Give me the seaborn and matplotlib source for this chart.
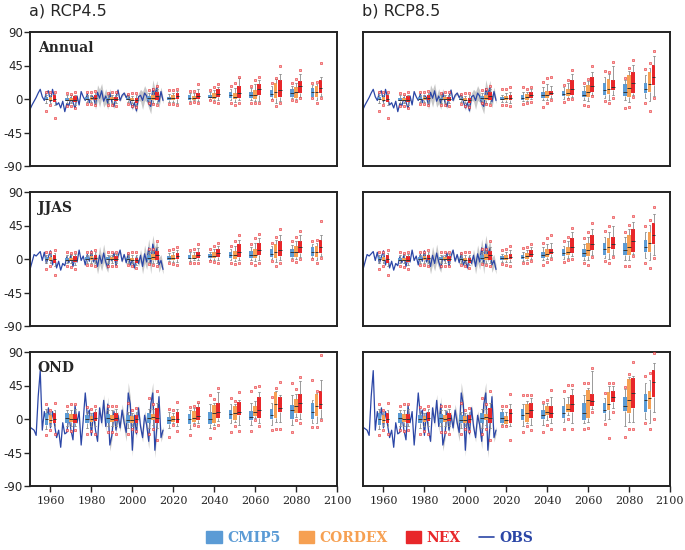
import numpy as np
import pandas as pd
import matplotlib
matplotlib.use("Agg")
import matplotlib.pyplot as plt
import seaborn as sns
from matplotlib.patches import Patch
from matplotlib.lines import Line2D

# observed anomalies 1950-2015
years = np.arange(1950, 2016)
obs_annual = [-14, -8, -3, 2, 8, 13, 3, -2, 9, 11, -4, 13, 2, -8, -5, -12, -3, -17, -6, -9,
              2, -4, -13, 4, -8, 10, 3, -2, 7, -5, 5, 2, -8, 9, 1, 11, -3, 4, -6, 8,
              -4, -10, 3, 12, -2, 5, 8, 2, 6, -3, -12, -5, -16, 3, 5, -2, 8, 4, -6, -10,
              14, 6, 15, -4, 10, -2]
obs_jjas = [-14, -4, 6, 4, 7, 10, -2, 9, -6, 3, 11, -8, 4, -12, -3, -15, -6, -9, 3, -5,
            6, -10, 2, -4, 12, -2, 4, -8, 6, -3, 11, -4, 2, -10, 5, -6, 8, -4, -12, 3,
            -2, 8, -9, 4, 12, -3, 6, -5, 8, -8, -2, -12, 3, -6, 5, -10, 7, -4, 15, -6,
            20, 6, 14, -8, -2, -14]
obs_ond = [-11, -13, -15, -22, 30, 65, -15, 10, -5, 15, -12, 10, -8, -25, -15, -38, -5, -20, -18, 5,
           -15, -28, 18, -5, 10, -35, -2, 35, 5, 12, -22, 8, -15, -30, 15, -5, 25, -10, 20, -35,
           -22, 10, -15, 5, -12, 12, -5, -18, 35, 20, -42, 5, -20, 15, -10, -25, 5, -8, -30, 20,
           35, -42, -10, 30, -25, -15]

# half width of the grey model band, 1981-2015
band_years = np.arange(1981, 2016)
band_annual = [0, 6, 10, 12, 10, 8, 10, 8, 6, 4, 3, 3, 2, 2, 2, 2, 3, 3, 3, 3,
               3, 3, 5, 8, 12, 10, 8, 6, 10, 12, 8, 10, 8, 6, 4]
band_jjas = [4, 8, 10, 12, 10, 12, 8, 6, 4, 3, 2, 2, 2, 2, 2, 2, 3, 3, 3, 3,
             3, 3, 4, 8, 10, 12, 10, 12, 14, 12, 10, 12, 10, 8, 6]
band_ond = [0, 0, 2, 4, 6, 8, 8, 10, 8, 6, 6, 5, 6, 5, 8, 10, 12, 14, 10, 8,
            6, 6, 5, 5, 6, 6, 8, 10, 12, 14, 10, 8, 6, 6, 5]

# box stats: (low point, whisker low, q1, median, q3, whisker high, high point)
hist_pos = [1960, 1970, 1980, 1990, 2000, 2010]
fut_pos = [2020, 2030, 2040, 2050, 2060, 2070, 2080, 2090]

hist_ann_cmip5 = [(-16, -5, -2, 0, 3, 6, 9), (-9, -5, -3, -1, 2, 5, 8), (-7, -4, -2, 0, 3, 5, 9),
                  (-8, -5, -2, 0, 2, 5, 8), (-7, -4, -2, 0, 2, 4, 7), (-6, -4, -1, 1, 4, 8, 12)]
hist_ann_cordex = [(-8, -6, -3, -1, 3, 6, 9), (-10, -6, -3, -1, 2, 5, 7), (-7, -4, -2, 1, 3, 6, 9),
                   (-8, -5, -2, 0, 3, 6, 9), (-9, -6, -3, -1, 2, 4, 8), (-7, -5, -1, 2, 6, 10, 13)]
hist_ann_nex = [(-25, -8, -4, 0, 5, 7, 10), (-12, -8, -4, -1, 4, 6, 9), (-8, -5, -2, 2, 6, 8, 11),
                (-9, -6, -3, 0, 3, 6, 9), (-11, -8, -5, -2, 2, 5, 8), (-8, -6, -2, 4, 10, 14, 17)]

hist_jjas_cmip5 = [(-14, -6, -2, 0, 3, 6, 10), (-10, -6, -3, -1, 2, 5, 9), (-8, -5, -2, 0, 3, 6, 10),
                   (-9, -5, -2, 0, 3, 5, 9), (-8, -5, -2, 0, 2, 5, 8), (-7, -4, -1, 2, 5, 9, 13)]
hist_jjas_cordex = [(-9, -6, -3, -1, 3, 6, 10), (-11, -6, -3, -1, 2, 5, 8), (-8, -5, -2, 1, 4, 7, 10),
                    (-9, -5, -2, 0, 3, 6, 10), (-10, -6, -3, -1, 2, 5, 9), (-8, -5, -1, 3, 7, 11, 14)]
hist_jjas_nex = [(-22, -9, -5, 0, 5, 8, 12), (-13, -8, -4, -1, 4, 7, 10), (-9, -6, -2, 2, 6, 9, 12),
                 (-10, -6, -3, 0, 4, 7, 10), (-12, -8, -5, -2, 2, 5, 9), (-9, -6, -2, 5, 11, 16, 24)]

hist_ond_cmip5 = [(-22, -14, -8, 0, 8, 14, 20), (-15, -10, -5, 2, 8, 12, 18), (-20, -12, -5, 0, 5, 10, 16),
                  (-18, -10, -5, 2, 7, 12, 18), (-20, -12, -6, -1, 5, 10, 22), (-20, -12, -5, 1, 8, 14, 28)]
hist_ond_cordex = [(-15, -10, -6, -2, 5, 10, 12), (-16, -10, -4, 0, 7, 12, 20), (-16, -10, -4, 0, 4, 8, 14),
                   (-18, -10, -4, 0, 6, 12, 18), (-14, -10, -6, -1, 4, 8, 12), (-14, -8, -2, 3, 7, 14, 20)]
hist_ond_nex = [(-20, -10, -5, 0, 8, 12, 22), (-15, -10, -6, 0, 7, 14, 20), (-20, -10, -3, 2, 9, 14, 18),
                (-20, -10, -3, 2, 8, 13, 18), (-16, -10, -5, 0, 5, 10, 15), (-28, -12, -6, 2, 15, 22, 38)]

rcp45_ann_cmip5 = [(-7, -4, -1, 1, 3, 7, 12), (-6, -3, -1, 2, 5, 8, 11), (-2, -1, 1, 3, 6, 9, 12),
                   (-6, -2, 2, 5, 9, 14, 18), (-6, -2, 2, 5, 9, 15, 18), (-2, 0, 3, 7, 12, 17, 21),
                   (-1, 1, 3, 8, 13, 18, 22), (1, 2, 3, 9, 15, 19, 22)]
rcp45_ann_cordex = [(-7, -4, -2, 1, 5, 8, 12), (-4, -2, -1, 1, 4, 8, 11), (-4, -2, 0, 3, 8, 12, 16),
                    (-8, -4, 0, 3, 8, 15, 22), (-6, -3, 0, 5, 12, 20, 25), (-9, -5, 1, 10, 22, 27, 28),
                    (-3, 0, 2, 9, 16, 22, 27), (-6, -2, 3, 9, 17, 20, 23)]
rcp45_ann_nex = [(-8, -5, 0, 4, 8, 11, 14), (-6, -3, 0, 4, 8, 14, 20), (-5, -2, 3, 7, 13, 16, 20),
                 (-5, -2, 2, 8, 18, 28, 29), (-6, -3, 6, 13, 20, 26, 29), (-6, -3, 3, 12, 25, 33, 44),
                 (1, 3, 8, 17, 24, 33, 39), (2, 4, 8, 15, 25, 30, 48)]

rcp85_ann_cmip5 = [(-8, -4, -2, 0, 3, 6, 13), (-7, -3, -1, 2, 5, 9, 16), (-11, -2, 2, 5, 9, 16, 23),
                   (-4, 0, 4, 7, 11, 16, 19), (-8, -2, 3, 6, 11, 18, 22), (-3, 1, 6, 12, 22, 30, 38),
                   (-12, -2, 4, 10, 20, 26, 28), (-6, 2, 8, 14, 22, 32, 40)]
rcp85_ann_cordex = [(-8, -4, -1, 2, 4, 8, 13), (-6, -3, -2, 3, 7, 10, 13), (-5, -1, 2, 6, 11, 20, 28),
                    (0, 2, 4, 8, 14, 22, 26), (-9, -3, 3, 10, 19, 24, 27), (-6, -2, 7, 14, 27, 33, 36),
                    (-11, -4, 3, 15, 32, 38, 41), (-16, -3, 10, 20, 36, 42, 48)]
rcp85_ann_nex = [(-9, -5, -1, 2, 5, 10, 16), (-4, 0, 2, 6, 10, 13, 16), (-1, 2, 6, 8, 11, 18, 30),
                 (0, 3, 6, 14, 25, 34, 39), (4, 6, 10, 18, 29, 36, 45), (2, 5, 12, 16, 25, 44, 50),
                 (3, 5, 8, 22, 36, 46, 52), (1, 4, 19, 30, 46, 58, 65)]

rcp45_jjas_cmip5 = [(-6, -3, -1, 2, 4, 8, 12), (-5, -3, 0, 2, 5, 9, 12), (-3, -1, 1, 4, 7, 10, 14),
                    (-5, -2, 2, 5, 10, 14, 18), (-5, -1, 2, 6, 11, 16, 20), (-3, 0, 3, 7, 13, 18, 22),
                    (-2, 1, 3, 9, 14, 19, 24), (0, 2, 4, 10, 16, 20, 24)]
rcp45_jjas_cordex = [(-7, -4, -1, 2, 6, 9, 13), (-5, -2, 0, 2, 6, 10, 14), (-4, -1, 1, 4, 9, 14, 18),
                     (-7, -3, 0, 5, 11, 18, 24), (-8, -3, 1, 6, 13, 22, 28), (-10, -4, 2, 9, 20, 26, 30),
                     (-4, 0, 3, 10, 18, 24, 30), (-6, -1, 3, 10, 18, 22, 26)]
rcp45_jjas_nex = [(-8, -4, 0, 4, 8, 12, 16), (-6, -2, 1, 5, 9, 15, 20), (-5, -1, 3, 8, 14, 18, 22),
                  (-6, -2, 3, 9, 20, 26, 32), (-5, -2, 6, 12, 22, 28, 34), (-5, -2, 4, 12, 24, 32, 40),
                  (0, 3, 8, 16, 24, 32, 38), (1, 4, 8, 16, 26, 32, 51)]

rcp85_jjas_cmip5 = [(-7, -4, -1, 1, 4, 7, 12), (-6, -3, 0, 3, 6, 10, 15), (-8, -2, 2, 5, 10, 16, 22),
                    (-4, 0, 4, 8, 13, 18, 24), (-6, -1, 3, 8, 14, 20, 28), (-3, 2, 6, 13, 22, 30, 38),
                    (-10, -1, 5, 12, 22, 30, 36), (-5, 2, 9, 16, 26, 36, 44)]
rcp85_jjas_cordex = [(-8, -4, -1, 2, 5, 9, 14), (-6, -2, 0, 4, 8, 12, 16), (-4, 0, 3, 7, 13, 20, 28),
                     (-1, 2, 5, 10, 16, 24, 30), (-8, -2, 4, 12, 22, 30, 36), (-6, 0, 8, 16, 28, 36, 44),
                     (-10, -2, 5, 16, 32, 40, 46), (-12, -2, 10, 22, 36, 46, 52)]
rcp85_jjas_nex = [(-9, -4, 0, 3, 7, 12, 18), (-3, 0, 3, 7, 12, 16, 20), (0, 3, 7, 10, 14, 22, 32),
                  (0, 4, 8, 16, 28, 36, 42), (3, 6, 12, 20, 32, 40, 48), (3, 6, 14, 20, 30, 44, 56),
                  (4, 7, 10, 24, 40, 50, 58), (2, 6, 20, 32, 48, 60, 70)]

rcp45_ond_cmip5 = [(-24, -12, -7, -2, 3, 10, 14), (-21, -14, -7, 0, 7, 12, 16), (-25, -12, -7, 0, 10, 20, 32),
                   (-18, -6, 0, 7, 12, 20, 28), (-16, -8, -2, 3, 11, 22, 38), (-15, -8, 0, 6, 14, 22, 29),
                   (-18, -8, 0, 12, 19, 32, 49), (-11, -6, 0, 10, 21, 26, 52)]
rcp45_ond_cordex = [(-8, -5, -4, 0, 4, 8, 12), (-8, -5, -4, 2, 11, 15, 17), (-12, -8, -6, 8, 19, 22, 27),
                    (-10, -4, -1, 8, 17, 20, 24), (-1, 2, 4, 10, 18, 24, 43), (-14, -4, 1, 20, 36, 38, 42),
                    (-1, 3, 8, 18, 27, 34, 40), (-11, -5, 4, 18, 33, 35, 38)]
rcp45_ond_nex = [(-16, -10, -5, 0, 9, 14, 23), (-10, -6, -2, 4, 16, 22, 23), (-8, -3, 1, 10, 22, 36, 42),
                 (-16, -8, 5, 10, 23, 26, 36), (-10, -6, 2, 12, 29, 36, 45), (-14, -4, 10, 15, 29, 32, 50),
                 (-5, 0, 8, 22, 33, 51, 56), (-2, 2, 13, 20, 38, 52, 86)]

rcp85_ond_cmip5 = [(-9, -7, -6, 1, 10, 14, 17), (-17, -10, -1, 6, 14, 20, 32), (-17, -8, 0, 5, 12, 20, 23),
                   (-14, -4, 2, 8, 17, 28, 38), (-13, -5, -1, 8, 22, 32, 48), (-7, -2, 8, 12, 21, 28, 35),
                   (-24, -10, 11, 18, 29, 40, 43), (-6, 0, 10, 25, 34, 48, 58)]
rcp85_ond_cordex = [(-10, -8, -7, -2, 4, 10, 17), (-9, -6, -4, 8, 20, 24, 32), (-8, -2, 5, 10, 18, 22, 26),
                    (0, 5, 10, 14, 20, 30, 46), (-12, -4, 2, 25, 39, 42, 48), (-25, 0, 12, 20, 36, 44, 48),
                    (-14, -4, 8, 25, 54, 57, 60), (-14, -6, 14, 28, 37, 52, 62)]
rcp85_ond_nex = [(-28, -10, -5, 8, 14, 20, 33), (-15, -8, 2, 12, 22, 28, 32), (-13, -5, 2, 8, 17, 30, 39),
                 (-14, -6, 10, 20, 32, 40, 46), (10, 14, 18, 24, 34, 64, 69), (10, 15, 23, 30, 37, 44, 48),
                 (-14, -4, 15, 35, 55, 58, 77), (0, 10, 29, 50, 66, 75, 88)]

groups = ["CMIP5", "CORDEX", "NEX"]
colors = {"CMIP5": "#5b9bd5", "CORDEX": "#f6a052", "NEX": "#e8272a"}
offset = {"CMIP5": -2, "CORDEX": 0, "NEX": 2}
obs_color = "#2b46a6"

seasons = [
    ("Annual", obs_annual, band_annual,
     [hist_ann_cmip5, hist_ann_cordex, hist_ann_nex],
     [rcp45_ann_cmip5, rcp45_ann_cordex, rcp45_ann_nex],
     [rcp85_ann_cmip5, rcp85_ann_cordex, rcp85_ann_nex]),
    ("JJAS", obs_jjas, band_jjas,
     [hist_jjas_cmip5, hist_jjas_cordex, hist_jjas_nex],
     [rcp45_jjas_cmip5, rcp45_jjas_cordex, rcp45_jjas_nex],
     [rcp85_jjas_cmip5, rcp85_jjas_cordex, rcp85_jjas_nex]),
    ("OND", obs_ond, band_ond,
     [hist_ond_cmip5, hist_ond_cordex, hist_ond_nex],
     [rcp45_ond_cmip5, rcp45_ond_cordex, rcp45_ond_nex],
     [rcp85_ond_cmip5, rcp85_ond_cordex, rcp85_ond_nex]),
]

sns.set_theme(style="ticks")
plt.rcParams["font.family"] = ["DejaVu Sans"]
plt.rcParams["axes.unicode_minus"] = False

fig = plt.figure(figsize=(6.85, 5.5), dpi=100)
lefts = [30 / 685, 363 / 685]
bottoms = [1 - 166 / 550, 1 - 326 / 550, 1 - 486 / 550]
w, h = 307 / 685, 134 / 550


def draw(ax, obs, band, hist, fut):
    rows, fl = [], []
    for g, hs, fs in zip(groups, hist, fut):
        for p, s in list(zip(hist_pos, hs)) + list(zip(fut_pos, fs)):
            x = p + offset[g]
            for v in s[1:6]:
                rows.append((x, g, v))
            fl.append((x, s[0]))
            fl.append((x, s[6]))
    df = pd.DataFrame(rows, columns=["x", "group", "val"])
    fdf = pd.DataFrame(fl, columns=["x", "val"])

    obs = np.array(obs, dtype=float)
    mid = obs[years >= 1981]
    band = np.array(band, dtype=float)
    ax.fill_between(band_years, mid - band, mid + band, color="#9a9a9a", alpha=0.55, lw=0, zorder=1)
    sns.lineplot(x=years, y=obs, color=obs_color, lw=0.9, ax=ax, zorder=2)
    sns.boxplot(data=df, x="x", y="val", hue="group", hue_order=groups, palette=colors,
                native_scale=True, dodge=False, width=0.9, whis=(0, 100), saturation=1,
                linecolor="#8a8a8a", linewidth=0.6, showfliers=False, legend=False, ax=ax,
                boxprops={"linewidth": 0},
                medianprops={"color": "#333333", "linewidth": 0.7})
    sns.scatterplot(data=fdf, x="x", y="val", marker="s", s=3, color="#f7b3b3",
                    edgecolor="#e8272a", linewidth=0.4, ax=ax, zorder=5, legend=False)

    ax.set_xlim(1950, 2100)
    ax.set_ylim(-90, 90)
    ax.set_yticks([-90, -45, 0, 45, 90])
    ax.set_xticks(np.arange(1960, 2101, 20))
    ax.set_xlabel("")
    ax.set_ylabel("")
    for sp in ax.spines.values():
        sp.set_linewidth(1.4)
        sp.set_color("#222222")


for r, (name, obs, band, hist, f45, f85) in enumerate(seasons):
    for c, fut in enumerate([f45, f85]):
        ax = fig.add_axes([lefts[c], bottoms[r], w, h])
        draw(ax, obs, band, hist, fut)
        ax.tick_params(axis="y", length=4, width=1, labelsize=8.5, pad=1)
        ax.tick_params(axis="x", length=4, width=1, labelsize=8, pad=3)
        if c == 1:
            ax.tick_params(axis="y", left=False, labelleft=False)
        if r < 2:
            ax.tick_params(axis="x", bottom=False, labelbottom=False)
        else:
            for lab in ax.get_xticklabels():
                lab.set_family("DejaVu Serif")
        if c == 0:
            ax.text(0.025, 0.93, name, transform=ax.transAxes, ha="left", va="top",
                    family="DejaVu Serif", weight="bold", fontsize=10)

fig.text(29 / 685, 1 - 16 / 550, "a) RCP4.5", fontsize=11.5, ha="left", va="baseline")
fig.text(362 / 685, 1 - 16 / 550, "b) RCP8.5", fontsize=11.5, ha="left", va="baseline")

handles = [Patch(color=colors[g]) for g in groups] + [Line2D([], [], color=obs_color, lw=1.2)]
labels = groups + ["OBS"]
leg = fig.legend(handles, labels, loc="center", bbox_to_anchor=(0.54, 0.022), ncol=4,
                 frameon=False, prop={"family": "DejaVu Serif", "weight": "bold", "size": 10},
                 handlelength=1.1, handleheight=0.9, columnspacing=1.3, handletextpad=0.4)
for t, col in zip(leg.get_texts(), [colors[g] for g in groups] + [obs_color]):
    t.set_color(col)

fig.savefig("out.png", dpi=100)
